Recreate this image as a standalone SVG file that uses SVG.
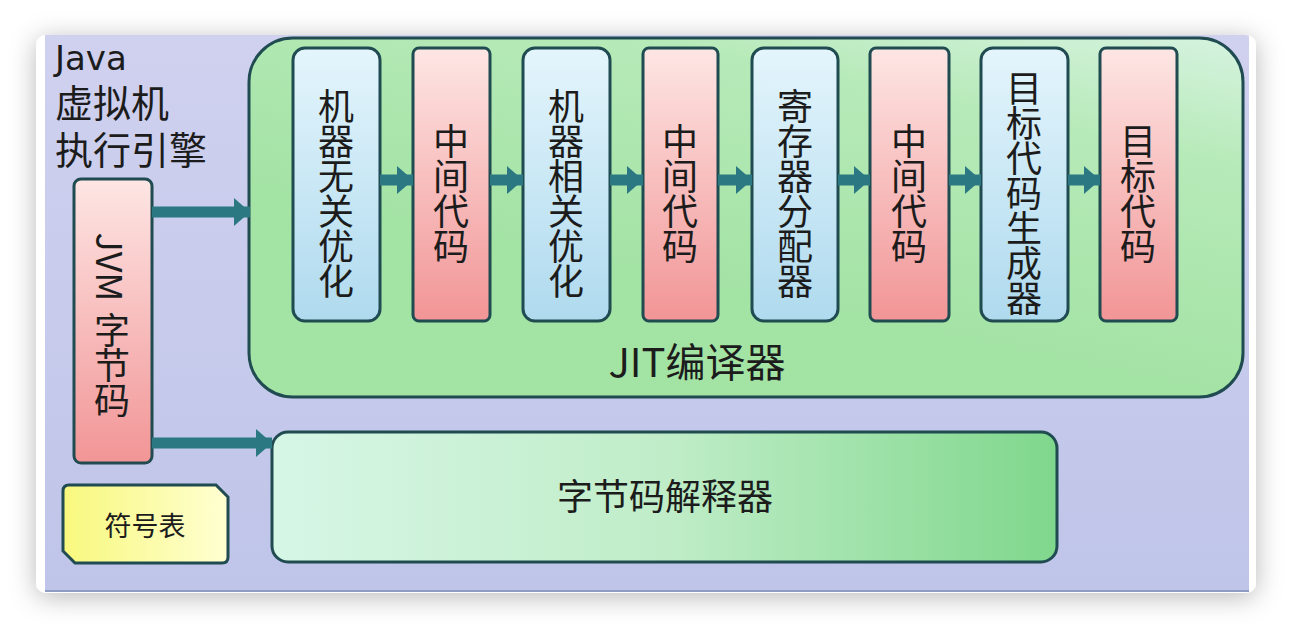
<svg xmlns="http://www.w3.org/2000/svg" width="1290" height="630" viewBox="0 0 1290 630">
  <defs>
    <filter id="cardShadow" x="-10%" y="-15%" width="120%" height="135%">
      <feDropShadow dx="0" dy="4" stdDeviation="13" flood-color="#000" flood-opacity="0.28"/>
    </filter>
    <clipPath id="cardClip">
      <rect x="36" y="35" width="1220" height="558" rx="10"/>
    </clipPath>
    <linearGradient id="panelFill" x1="0" y1="0" x2="0" y2="1">
      <stop offset="0" stop-color="#d0d1ef"/>
      <stop offset="1" stop-color="#bfc5e9"/>
    </linearGradient>
    <linearGradient id="jitFill" x1="1" y1="0" x2="0.55" y2="0.75">
      <stop offset="0" stop-color="#d6f3e0"/>
      <stop offset="0.35" stop-color="#b7eab9"/>
      <stop offset="1" stop-color="#a3e3a4"/>
    </linearGradient>
    <linearGradient id="interpFill" x1="0" y1="0" x2="1" y2="0">
      <stop offset="0" stop-color="#d6f6e6"/>
      <stop offset="0.5" stop-color="#c0edc8"/>
      <stop offset="1" stop-color="#7fd78c"/>
    </linearGradient>
    <linearGradient id="pinkFill" x1="0" y1="0" x2="0" y2="1">
      <stop offset="0" stop-color="#fde6e4"/>
      <stop offset="1" stop-color="#f29596"/>
    </linearGradient>
    <linearGradient id="blueFill" x1="0" y1="0" x2="0" y2="1">
      <stop offset="0" stop-color="#e4f5fc"/>
      <stop offset="1" stop-color="#afdaee"/>
    </linearGradient>
    <linearGradient id="yellowFill" x1="0" y1="0" x2="1" y2="0">
      <stop offset="0" stop-color="#f8f87e"/>
      <stop offset="1" stop-color="#ffffd2"/>
    </linearGradient>
    <marker id="head" markerUnits="userSpaceOnUse" markerWidth="16" markerHeight="28" refX="16" refY="14" orient="auto">
      <path d="M0,0 L16,14 L0,28 Z" fill="#2b7883"/>
    </marker>
    <style>
      .box { stroke: #1f4b51; stroke-width: 3; }
      .pink { fill: url(#pinkFill); }
      .blue { fill: url(#blueFill); }
      .cjk { font-family: "Noto Sans CJK SC", "Noto Sans", sans-serif; fill: #1c1c1c; }
      .v { font-size: 36px; text-anchor: middle; }
      .arrow { stroke: #2b7883; stroke-width: 11; fill: none; marker-end: url(#head); }
    </style>
  </defs>

  <!-- card and panel -->
  <rect x="36" y="35" width="1220" height="558" rx="10" fill="#ffffff" filter="url(#cardShadow)"/>
  <g clip-path="url(#cardClip)">
    <rect x="45" y="35" width="1204" height="557" fill="url(#panelFill)"/>
    <line x1="45" y1="591" x2="1249" y2="591" stroke="#8e9cc4" stroke-width="2"/>
  </g>

  <!-- engine title -->
  <g id="title">
    <text x="55" y="70" font-family="DejaVu Sans, sans-serif" font-size="34" fill="#1c1c1c">Java</text>
    <text class="cjk" x="55" y="117" font-size="38">虚拟机</text>
    <text class="cjk" x="55" y="164" font-size="38">执行引擎</text>
  </g>

  <!-- JIT compiler container -->
  <g id="jit">
    <rect class="box" x="249" y="38" width="994" height="359" rx="44" fill="url(#jitFill)"/>
    <text class="cjk" x="697" y="377" font-size="40" text-anchor="middle">JIT编译器</text>
  </g>

  <g id="stage1">
    <rect class="box blue" x="293" y="48" width="87" height="273" rx="12"/>
    <text class="cjk v" x="336" y="120"><tspan x="336">机</tspan><tspan x="336" dy="35">器</tspan><tspan x="336" dy="35">无</tspan><tspan x="336" dy="35">关</tspan><tspan x="336" dy="35">优</tspan><tspan x="336" dy="35">化</tspan></text>
  </g>
  <g id="stage2">
    <rect class="box pink" x="413" y="48" width="77" height="273" rx="6"/>
    <text class="cjk v" x="451" y="155"><tspan x="451">中</tspan><tspan x="451" dy="35">间</tspan><tspan x="451" dy="35">代</tspan><tspan x="451" dy="35">码</tspan></text>
  </g>
  <g id="stage3">
    <rect class="box blue" x="523" y="48" width="87" height="273" rx="12"/>
    <text class="cjk v" x="566" y="120"><tspan x="566">机</tspan><tspan x="566" dy="35">器</tspan><tspan x="566" dy="35">相</tspan><tspan x="566" dy="35">关</tspan><tspan x="566" dy="35">优</tspan><tspan x="566" dy="35">化</tspan></text>
  </g>
  <g id="stage4">
    <rect class="box pink" x="643" y="48" width="75" height="273" rx="6"/>
    <text class="cjk v" x="680" y="155"><tspan x="680">中</tspan><tspan x="680" dy="35">间</tspan><tspan x="680" dy="35">代</tspan><tspan x="680" dy="35">码</tspan></text>
  </g>
  <g id="stage5">
    <rect class="box blue" x="752" y="48" width="86" height="273" rx="12"/>
    <text class="cjk v" x="795" y="120"><tspan x="795">寄</tspan><tspan x="795" dy="35">存</tspan><tspan x="795" dy="35">器</tspan><tspan x="795" dy="35">分</tspan><tspan x="795" dy="35">配</tspan><tspan x="795" dy="35">器</tspan></text>
  </g>
  <g id="stage6">
    <rect class="box pink" x="870" y="48" width="79" height="273" rx="6"/>
    <text class="cjk v" x="909" y="155"><tspan x="909">中</tspan><tspan x="909" dy="35">间</tspan><tspan x="909" dy="35">代</tspan><tspan x="909" dy="35">码</tspan></text>
  </g>
  <g id="stage7">
    <rect class="box blue" x="981" y="48" width="87" height="273" rx="12"/>
    <text class="cjk v" x="1024" y="102"><tspan x="1024">目</tspan><tspan x="1024" dy="35">标</tspan><tspan x="1024" dy="35">代</tspan><tspan x="1024" dy="35">码</tspan><tspan x="1024" dy="35">生</tspan><tspan x="1024" dy="35">成</tspan><tspan x="1024" dy="35">器</tspan></text>
  </g>
  <g id="stage8">
    <rect class="box pink" x="1100" y="48" width="77" height="273" rx="6"/>
    <text class="cjk v" x="1138" y="155"><tspan x="1138">目</tspan><tspan x="1138" dy="35">标</tspan><tspan x="1138" dy="35">代</tspan><tspan x="1138" dy="35">码</tspan></text>
  </g>

  <!-- bytecode input -->
  <g id="bytecode">
    <rect class="box pink" x="74" y="179" width="78" height="284" rx="7"/>
    <text class="cjk" x="112" y="267" font-size="36" text-anchor="middle" dominant-baseline="central" transform="rotate(90 112 267)">JVM</text>
    <text class="cjk v" x="112" y="344"><tspan x="112">字</tspan><tspan x="112" dy="35">节</tspan><tspan x="112" dy="35">码</tspan></text>
  </g>

  <!-- interpreter -->
  <g id="interpreter">
    <rect class="box" x="272" y="432" width="785" height="130" rx="16" fill="url(#interpFill)"/>
    <text class="cjk" x="665" y="510" font-size="36" text-anchor="middle">字节码解释器</text>
  </g>

  <!-- symbol table -->
  <g id="symbols">
    <path class="box" d="M69,485 H216 L228,497 V557 Q228,563 222,563 H75 L63,551 V491 Q63,485 69,485 Z" fill="url(#yellowFill)"/>
    <text class="cjk" x="145" y="536" font-size="27" text-anchor="middle">符号表</text>
  </g>

  <!-- connectors -->
  <g id="connectors">
    <line class="arrow" x1="152" y1="212" x2="250" y2="212"/>
    <line class="arrow" x1="152" y1="443" x2="272" y2="443"/>
    <line class="arrow" x1="380" y1="180" x2="413" y2="180"/>
    <line class="arrow" x1="490" y1="180" x2="523" y2="180"/>
    <line class="arrow" x1="610" y1="180" x2="643" y2="180"/>
    <line class="arrow" x1="718" y1="180" x2="752" y2="180"/>
    <line class="arrow" x1="838" y1="180" x2="870" y2="180"/>
    <line class="arrow" x1="949" y1="180" x2="981" y2="180"/>
    <line class="arrow" x1="1068" y1="180" x2="1100" y2="180"/>
  </g>
</svg>
